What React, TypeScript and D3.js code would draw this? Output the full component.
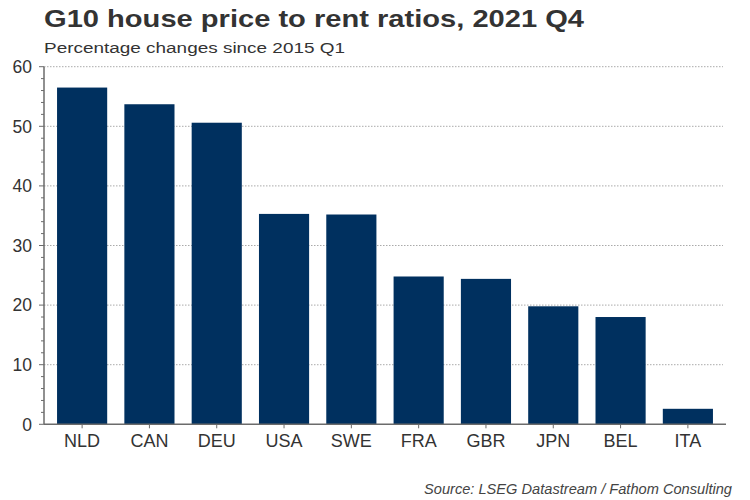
import * as d3 from "d3";
import React from "react";

const countries = ["NLD", "CAN", "DEU", "USA", "SWE", "FRA", "GBR", "JPN", "BEL", "ITA"];
const changes = [56.5, 53.7, 50.6, 35.3, 35.2, 24.8, 24.4, 19.8, 18.0, 2.6];
const yTicks = [0, 10, 20, 30, 40, 50, 60];

const title = "G10 house price to rent ratios, 2021 Q4";
const subtitle = "Percentage changes since 2015 Q1";
const source = "Source: LSEG Datastream / Fathom Consulting";

const App = (): React.ReactElement => {
  const width = 750;
  const height = 500;
  const axisX = 44;
  const axisEnd = 726;

  const x = d3.scaleBand<string>().domain(countries).range([48.5, 721.5]).paddingInner(0.255).paddingOuter(0.127);
  const y = d3.scaleLinear().domain([0, 60]).range([424.3, 66.7]);
  const minor = d3.range(0, 61, 2);

  const font = "'Liberation Sans', Arial, sans-serif";
  const axisColor = "#6b6b6b";

  return (
    <svg width={width} height={height} style={{ position: "absolute", left: 0, top: 0, fontFamily: font }}>
      <rect width={width} height={height} fill="#fff" />
      {/* the source text is a little stretched horizontally */}
      <text x={44} y={27} fontSize={24} fontWeight="bold" fill="#333" textLength={540} lengthAdjust="spacingAndGlyphs">{title}</text>
      <text x={44} y={53} fontSize={15.5} fill="#333" textLength={301} lengthAdjust="spacingAndGlyphs">{subtitle}</text>

      {/* gridlines */}
      {yTicks.filter((t) => t > 0).map((t) => (
        <line key={t} x1={axisX} x2={723} y1={y(t)} y2={y(t)} stroke="#aaa" strokeWidth={1} strokeDasharray="1.5,1.5" />
      ))}

      {/* bars */}
      {countries.map((c, i) => (
        <rect key={c} x={x(c)} y={y(changes[i])} width={x.bandwidth()} height={y(0) - y(changes[i])} fill="#00305f" />
      ))}

      {/* y axis */}
      <line x1={axisX} x2={axisX} y1={y(0)} y2={y(60)} stroke={axisColor} strokeWidth={1.5} />
      {minor.map((t) => (
        <line key={t} x1={axisX - (t % 10 === 0 ? 5 : 3)} x2={axisX} y1={y(t)} y2={y(t)} stroke={axisColor} strokeWidth={1} />
      ))}
      {yTicks.map((t) => (
        <text key={t} x={32} y={y(t)} dy="0.36em" textAnchor="end" fontSize={17.5} fill="#333">{t}</text>
      ))}

      {/* x axis */}
      <line x1={axisX} x2={axisEnd} y1={y(0)} y2={y(0)} stroke={axisColor} strokeWidth={1.5} />
      {countries.map((c) => (
        <g key={c}>
          <line x1={x(c)! + x.bandwidth() / 2} x2={x(c)! + x.bandwidth() / 2} y1={y(0)} y2={y(0) + 4} stroke={axisColor} strokeWidth={1} />
          <text x={x(c)! + x.bandwidth() / 2} y={447} textAnchor="middle" fontSize={18} fill="#333">{c}</text>
        </g>
      ))}

      <text x={732} y={494} textAnchor="end" fontSize={14} fontStyle="italic" fill="#444" textLength={308} lengthAdjust="spacingAndGlyphs">{source}</text>
    </svg>
  );
};

export default App;
